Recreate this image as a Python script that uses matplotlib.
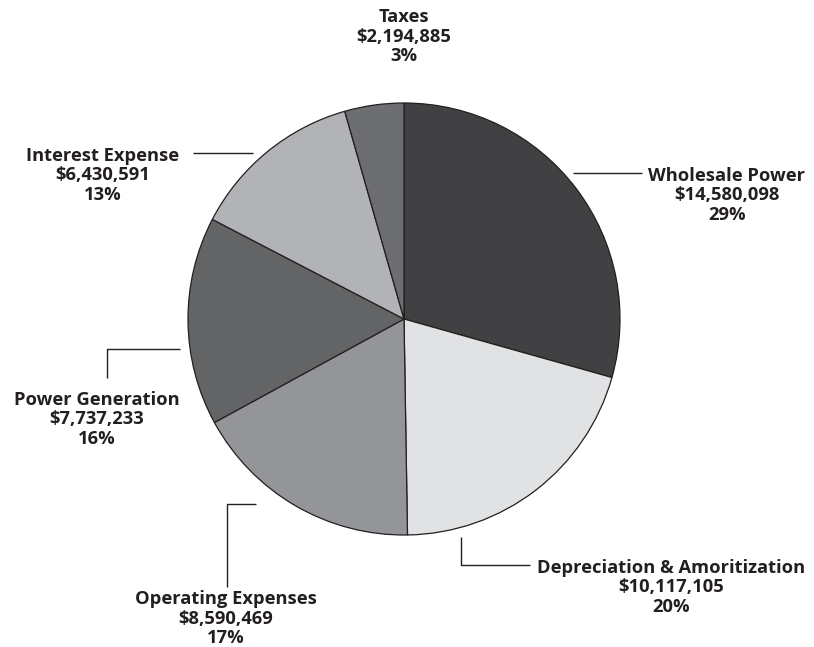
import matplotlib
matplotlib.use("Agg")
import matplotlib.pyplot as plt

categories = ["Wholesale Power", "Depreciation & Amoritization", "Operating Expenses",
              "Power Generation", "Interest Expense", "Taxes"]
values = [14580098, 10117105, 8590469, 7737233, 6430591, 2194885]
percents = [29, 20, 17, 16, 13, 3]
colors = ["#414042", "#e1e2e4", "#939598", "#636466", "#b1b3b6", "#6d6e71"]

W, H = 814, 647
fig = plt.figure(figsize=(W / 100, H / 100), dpi=100)
ax = fig.add_axes([0, 0, 1, 1])

def Y(y):
    return H - y

cx, cy, r = 404, Y(319), 216
ax.pie(values, colors=colors, startangle=90, counterclock=False,
       center=(cx, cy), radius=r,
       wedgeprops=dict(edgecolor="#231f20", linewidth=0.9))
ax.set_xlim(0, W)
ax.set_ylim(0, H)
ax.set_aspect("equal")
ax.axis("off")

txt = "#231f20"
# label anchor positions (center x, first-line center y in pixels) and connector polylines
label_pos = [(727, 174), (671, 566), (226, 597), (97, 398), (103, 154), (404, 15)]
connectors = [
    [(573, 173), (642, 173)],
    [(461, 537), (461, 565), (530, 565)],
    [(256, 504), (227, 504), (227, 587)],
    [(180, 349), (107, 349), (107, 378)],
    [(193, 153), (253, 153)],
    None,
]

for name, val, pct, (lx, ly), con in zip(categories, values, percents, label_pos, connectors):
    lines = [name, f"${val:,}", f"{pct}%"]
    for i, s in enumerate(lines):
        ax.text(lx, Y(ly + 19.5 * i), s, ha="center", va="center_baseline", fontsize=13.2,
                fontweight="bold", family="Open Sans", color=txt)
    if con:
        xs = [p[0] for p in con]
        ys = [Y(p[1]) for p in con]
        ax.plot(xs, ys, color=txt, lw=1.0, solid_capstyle="butt")

fig.savefig("out.png", dpi=100)
